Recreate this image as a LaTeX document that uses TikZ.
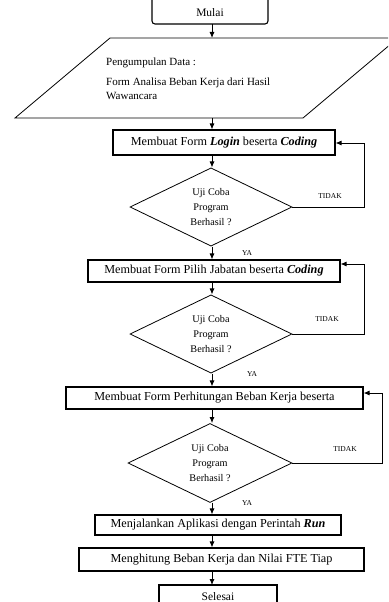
\documentclass[tikz,border=0pt]{standalone}
\usepackage{fontspec}
\setmainfont{Liberation Serif}
\usetikzlibrary{arrows.meta,shapes.geometric}

\tikzset{
  proses/.style={draw, line width=1.1pt, rectangle, inner sep=0pt, font=\fontsize{12.2}{13}\selectfont},
  keputusan/.style={draw, line width=0.8pt, diamond, inner sep=0pt, minimum width=162pt, minimum height=78pt, align=center, font=\fontsize{10.2}{15}\selectfont},
  panah/.style={-{Latex[length=6pt,width=5pt]}, line width=0.9pt},
  teks/.style={inner sep=0pt, font=\fontsize{11}{13}\selectfont},
  ket/.style={inner sep=0pt, font=\fontsize{7.5}{8}\selectfont}
}

\begin{document}
\begin{tikzpicture}[x=1pt,y=1pt,yscale=-1]
\useasboundingbox (0,0) rectangle (388,602);
\clip (0,0) rectangle (388,602);

%Terminator Mulai
\draw [line width=1.1pt, rounded corners=3pt] (152,-10) -- (152,24) -- (268,24) -- (268,-10);
\node (mulai) [teks, font=\fontsize{11.5}{13}\selectfont] at (210,13) {Mulai};
\coordinate (mulaiB) at (212,24);

%Input data
\draw [line width=0.8pt] (110,38) -- (398,38) -- (303,118) -- (15,118) -- cycle;
\coordinate (dataT) at (212,38);
\coordinate (dataB) at (212,118);
\node (data1) [teks, anchor=west] at (106,63) {Pengumpulan Data :};
\node (data2) [teks, anchor=west] at (106,83) {Form Analisa Beban Kerja dari Hasil};
\node (data3) [teks, anchor=west] at (106,96) {Wawancara};

%Proses dan keputusan
\node (login) [proses, minimum width=222pt, minimum height=25pt] at (224,142.5) {Membuat Form \textbf{\textit{Login}} beserta \textbf{\textit{Coding}}};
\node (uji1) [keputusan] at (211,207) {Uji Coba\\Program\\Berhasil ?};
\node (jabatan) [proses, minimum width=252pt, minimum height=22pt] at (214,271) {Membuat Form Pilih Jabatan beserta \textbf{\textit{Coding}}};
\node (uji2) [keputusan] at (211,334) {Uji Coba\\Program\\Berhasil ?};
\node (hitung) [proses, minimum width=297pt, minimum height=22pt] at (214.5,398) {Membuat Form Perhitungan Beban Kerja beserta};
\node (uji3) [keputusan, minimum width=164pt, minimum height=79pt] at (210,463) {Uji Coba\\Program\\Berhasil ?};
\node (run) [proses, minimum width=246pt, minimum height=20pt] at (218,525) {Menjalankan Aplikasi dengan Perintah \textbf{\textit{Run}}};
\node (nilai) [proses, minimum width=285pt, minimum height=23pt] at (221.5,559.5) {Menghitung Beban Kerja dan Nilai FTE Tiap};

%Terminator Selesai
\draw [line width=1.1pt] (159,612) -- (159,585) -- (277,585) -- (277,612);
\node (selesai) [teks, font=\fontsize{11.5}{13}\selectfont] at (218,597) {Selesai};
\coordinate (selesaiT) at (212,585);

%Arus utama
\draw [panah] (mulaiB) -- (dataT);
\draw [panah] (dataB) -- (login.north -| dataB);
\draw [panah] (login.south -| dataB) -- (uji1.north -| dataB);
\draw [panah] (uji1.south -| dataB) -- (jabatan.north -| dataB);
\draw [panah] (jabatan.south -| dataB) -- (uji2.north -| dataB);
\draw [panah] (uji2.south -| dataB) -- (hitung.north -| dataB);
\draw [panah] (hitung.south -| dataB) -- (uji3.north -| dataB);
\draw [panah] (uji3.south -| dataB) -- (run.north -| dataB);
\draw [panah] (run.south -| dataB) -- (nilai.north -| dataB);
\draw [panah] (nilai.south -| dataB) -- (selesaiT);

%Arus kembali
\coordinate (k1) at (364,143);
\coordinate (k2) at (364,264);
\coordinate (k3) at (382,393);
\draw [panah] (uji1.east) -| (k1) -- (login.east |- k1);
\draw [panah] (uji2.east) -| (k2) -- (jabatan.east |- k2);
\draw [panah] (uji3.east) -| (k3) -- (hitung.east |- k3);

%Keterangan
\node [ket] at (330,196) {TIDAK};
\node [ket] at (327,319) {TIDAK};
\node [ket] at (345,449) {TIDAK};
\node [ket] at (247,253) {YA};
\node [ket] at (252,374) {YA};
\node [ket] at (247,503) {YA};

\end{tikzpicture}
\end{document}
